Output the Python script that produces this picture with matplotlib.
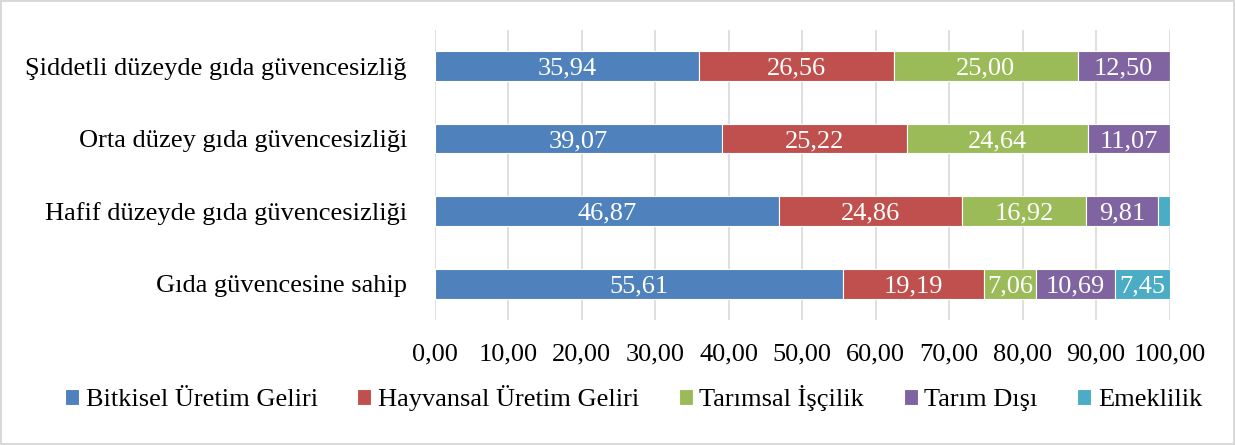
import matplotlib.pyplot as plt
import numpy as np

plt.rcParams["font.family"] = ["Liberation Serif", "DejaVu Serif"]

categories = [
    "Gıda güvencesine sahip",
    "Hafif düzeyde gıda güvencesizliği",
    "Orta düzey gıda güvencesizliği",
    "Şiddetli düzeyde gıda güvencesizliğ",
]
series_names = [
    "Bitkisel Üretim Geliri",
    "Hayvansal Üretim Geliri",
    "Tarımsal İşçilik",
    "Tarım Dışı",
    "Emeklilik",
]
bitkisel = [55.61, 46.87, 39.07, 35.94]
hayvansal = [19.19, 24.86, 25.22, 26.56]
tarimsal = [7.06, 16.92, 24.64, 25.00]
tarim_disi = [10.69, 9.81, 11.07, 12.50]
emeklilik = [7.45, 1.54, 0.0, 0.0]
xticks = [0, 10, 20, 30, 40, 50, 60, 70, 80, 90, 100]

colors = ["#4F81BD", "#C0504D", "#9BBB59", "#8064A2", "#4BACC6"]

fig = plt.figure(figsize=(12.35, 4.45), dpi=100)
fig.patch.set_edgecolor("#D9D9D9")
fig.patch.set_linewidth(1.5)
ax = fig.add_axes([0.352, 0.281, 0.595, 0.652])

y = np.arange(len(categories))
left = np.zeros(len(categories))
for name, vals, col in zip(series_names,
                           [bitkisel, hayvansal, tarimsal, tarim_disi, emeklilik],
                           colors):
    vals = np.array(vals)
    bars = ax.barh(y, vals, left=left, height=0.41, color=col,
                   edgecolor="white", linewidth=0.8, label=name, zorder=3)
    for b, v in zip(bars, vals):
        if v >= 3:
            ax.text(b.get_x() + b.get_width() / 2, b.get_y() + b.get_height() / 2,
                    f"{v:.2f}".replace(".", ","), ha="center", va="center_baseline",
                    color="white", fontsize=19, zorder=4)
    left += vals

ax.set_xlim(0, 100)
ax.set_ylim(-0.5, 3.5)
ax.set_xticks(xticks)
ax.set_xticklabels([f"{t:.2f}".replace(".", ",") for t in xticks], fontsize=19)
ax.set_yticks(y)
ax.set_yticklabels(categories, fontsize=19)
ax.tick_params(axis="both", length=0)
ax.tick_params(axis="y", pad=20)
ax.tick_params(axis="x", pad=17)
ax.grid(axis="x", color="#D9D9D9", linewidth=1.2, zorder=0)
for s in ax.spines.values():
    s.set_visible(False)

fig.legend(loc="center", bbox_to_anchor=(0.513, 0.105), ncol=5, frameon=False,
           fontsize=19, handlelength=0.53, handleheight=0.53, handletextpad=0.25,
           columnspacing=1.5)

fig.savefig("out.png", dpi=100)
